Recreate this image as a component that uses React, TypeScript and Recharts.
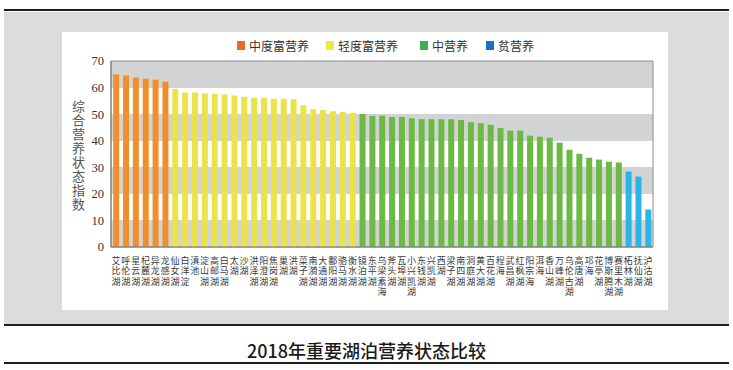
import { BarChart, Bar, XAxis, YAxis, CartesianGrid, Cell, ReferenceArea } from "recharts"

const LAKES = [
  "艾比湖", "呼伦湖", "星云湖", "杞麓湖", "异龙湖", "龙感湖",
  "仙女湖", "白洋淀", "滇池", "淀山湖", "高邮湖", "白马湖", "太湖", "沙湖", "洪泽湖", "阳澄湖",
  "焦岗湖", "巢湖", "洪湖", "菜子湖", "南漪湖", "大通湖", "鄱阳湖", "骆马湖", "衡水湖",
  "镜泊湖", "东平湖", "乌梁素海", "斧头湖", "瓦埠湖", "小兴凯湖", "东钱湖", "兴凯湖", "西湖",
  "梁子湖", "南四湖", "洞庭湖", "黄大湖", "百花湖", "程海", "武昌湖", "红枫湖", "阳宗海",
  "洱海", "香山湖", "万峰湖", "乌伦古湖", "高唐湖", "邛海", "花亭湖", "博斯腾湖", "赛里木湖",
  "柘林湖", "抚仙湖", "泸沽湖",
]

// 综合营养状态指数
const INDEX_VALUES = [
  65.0, 64.5, 63.8, 63.3, 62.9, 62.2,
  59.5, 58.1, 58.1, 57.8, 57.7, 57.4, 57.0, 56.5, 56.1, 56.1,
  55.8, 55.8, 55.6, 53.3, 51.8, 51.6, 51.1, 50.8, 50.5,
  50.1, 49.4, 49.4, 48.9, 48.9, 48.5, 48.1, 48.1, 48.1,
  48.1, 47.8, 47.0, 46.6, 46.0, 44.8, 43.8, 43.8, 41.9,
  41.5, 41.1, 39.3, 36.6, 35.1, 33.6, 32.9, 32.1, 31.8,
  28.4, 26.5, 14.1,
]

// 0 中度富营养, 1 轻度富营养, 2 中营养, 3 贫营养
const LEVELS = [
  0, 0, 0, 0, 0, 0,
  1, 1, 1, 1, 1, 1, 1, 1, 1, 1,
  1, 1, 1, 1, 1, 1, 1, 1, 1,
  2, 2, 2, 2, 2, 2, 2, 2, 2,
  2, 2, 2, 2, 2, 2, 2, 2, 2,
  2, 2, 2, 2, 2, 2, 2, 2, 2,
  3, 3, 3,
]

const LEVEL_NAMES = ["中度富营养", "轻度富营养", "中营养", "贫营养"]
const BAR_COLORS = ["#f0902c", "#ebe34b", "#6cb944", "#2bb5e6"]
const LEGEND_COLORS = ["#e46c23", "#efe84c", "#3fae4e", "#1b6fc0"]

const Y_TICKS = [0, 10, 20, 30, 40, 50, 60, 70]
const Y_LABEL = "综合营养状态指数"
const TITLE = "2018年重要湖泊营养状态比较"

const cjk = '"Noto Sans CJK SC", "Noto Sans", sans-serif'

const chartData = LAKES.map((name, i) => ({ name, value: INDEX_VALUES[i], level: LEVELS[i] }))

// lake names are written top-to-bottom, one column per bar
function LakeTick({ x, y, payload }: any) {
  return (
    <text
      x={x}
      y={y + 9}
      fontSize={9}
      fill="#3a3a3a"
      fontFamily={cjk}
      style={{ writingMode: "vertical-rl", letterSpacing: "1.3px" }}
    >
      {payload.value}
    </text>
  )
}

export default function App() {
  return (
    <div style={{ position: "absolute", left: 0, top: 0, width: 733, height: 370, background: "#fff", overflow: "hidden" }}>
      <div style={{ position: "absolute", left: 4, top: 9, width: 725, height: 2, background: "#1e1e1e" }} />
      <div style={{ position: "absolute", left: 4, top: 12, width: 725, height: 312, background: "#dcdcde" }} />
      <div style={{ position: "absolute", left: 62, top: 32, width: 606, height: 278, background: "#fff" }} />
      <div style={{ position: "absolute", left: 4, top: 324, width: 725, height: 2, background: "#1e1e1e" }} />
      <div style={{ position: "absolute", left: 4, top: 362, width: 725, height: 2, background: "#1e1e1e" }} />

      {/* legend */}
      <div style={{ position: "absolute", left: 0, top: 37, width: 733, height: 16, fontFamily: cjk, fontSize: 12, color: "#333" }}>
        {LEVEL_NAMES.map((n, i) => {
          const lefts = [237, 326, 420, 486]
          return (
            <div key={n} style={{ position: "absolute", left: lefts[i], top: 0, display: "flex", alignItems: "center", height: 16 }}>
              <span style={{ display: "inline-block", width: 8, height: 9, background: LEGEND_COLORS[i], marginRight: 4 }} />
              <span>{n}</span>
            </div>
          )
        })}
      </div>

      {/* y axis title, one vertical column */}
      <div
        style={{
          position: "absolute",
          left: 71,
          top: 100,
          width: 14,
          height: 116,
          fontFamily: cjk,
          fontSize: 13,
          lineHeight: "14px",
          letterSpacing: "1px",
          color: "#555",
          writingMode: "vertical-rl",
        }}
      >
        {Y_LABEL}
      </div>

      <div style={{ position: "absolute", left: 0, top: 0 }}>
        <BarChart
          width={733}
          height={370}
          data={chartData}
          margin={{ top: 61, right: 80, left: 51, bottom: 63 }}
          barCategoryGap="22%"
        >
          <CartesianGrid vertical={false} stroke="none" horizontalFill={["#d2d3d5", "#ffffff"]} fillOpacity={1} />
          <XAxis
            dataKey="name"
            interval={0}
            tickLine={false}
            tickSize={0}
            tickMargin={0}
            height={60}
            axisLine={{ stroke: "#7a7a7a" }}
            tick={<LakeTick />}
          />
          <YAxis
            domain={[0, 70]}
            ticks={Y_TICKS}
            width={60}
            tickLine={false}
            tickSize={0}
            tickMargin={7}
            axisLine={{ stroke: "#7a7a7a" }}
            tick={{ fontSize: 12.5, fill: "#333", fontFamily: '"Liberation Serif", serif' }}
          />
          <ReferenceArea y1={0} y2={70} fill="none" stroke="#8a8a8a" strokeWidth={1} />
          <Bar dataKey="value" isAnimationActive={false}>
            {chartData.map((d, i) => (
              <Cell key={i} fill={BAR_COLORS[d.level]} />
            ))}
          </Bar>
        </BarChart>
      </div>

      <div style={{ position: "absolute", left: 0, top: 338, width: 733, textAlign: "center", fontFamily: cjk, fontSize: 18, fontWeight: 500, color: "#1a1a1a", lineHeight: "24px" }}>
        {TITLE}
      </div>
    </div>
  )
}
